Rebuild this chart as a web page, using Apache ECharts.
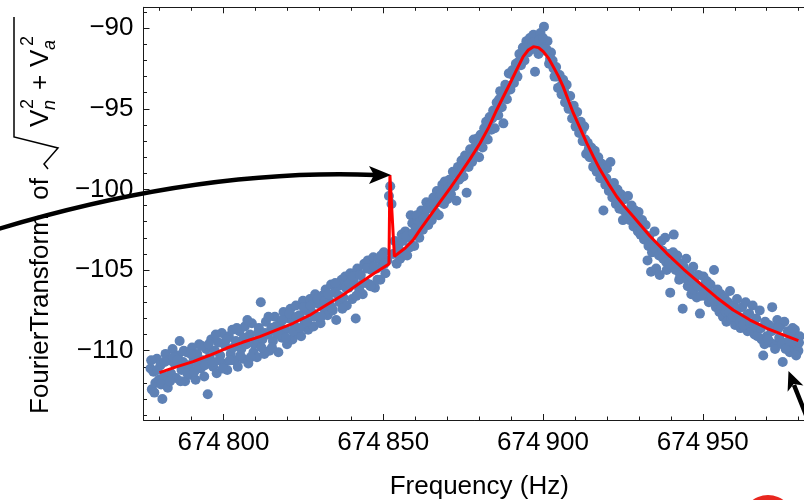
<!DOCTYPE html>
<html>

<head lang="en">
    <meta charset="utf-8">
    <title>resonance</title>
    <script src="https://cdn.jsdelivr.net/npm/echarts@6.0.0/dist/echarts.min.js"></script>
</head>

<body style="margin:0">
    <div id="demo1" style="width: 804px;height:500px;"></div>
    <script type="text/javascript">
        var myChart = echarts.init(document.getElementById('demo1'));

        /*---------------------axes----------------------------*/
        var freqRange = [674775, 674985.1];
        var ampRange = [-114.3, -88.7];
        var freqMajor = [674800, 674850, 674900, 674950];
        var freqMinor = [674780, 674790, 674810, 674820, 674830, 674840, 674860, 674870, 674880, 674890,
            674910, 674920, 674930, 674940, 674960, 674970, 674980];
        var ampMajor = [-110, -105, -100, -95, -90];
        var ampMinor = [-114, -113, -112, -111, -109, -108, -107, -106, -104, -103, -102, -101,
            -99, -98, -97, -96, -94, -93, -92, -91, -89];

        /*---------------------data----------------------------*/
        // measured points [Hz, value]
        var measured = [
            [674777.2,-111.1],[674777.6,-112.4],[674778.1,-111.3],[674778.7,-112.0],[674779.2,-110.5],[674779.8,-111.8],[674780.3,-110.9],[674780.9,-113.0],[674781.4,-111.6],[674781.9,-110.2],
            [674782.5,-111.9],[674783.0,-110.6],[674783.6,-111.4],[674784.1,-109.9],[674784.7,-110.8],[674785.2,-111.7],[674785.8,-110.3],[674786.3,-109.4],[674786.9,-111.2],[674787.4,-110.7],
            [674788.0,-111.9],[674788.5,-110.1],[674789.1,-110.9],[674789.6,-111.5],[674790.2,-109.8],[674790.7,-110.5],[674791.3,-111.8],[674791.8,-110.2],[674792.4,-109.6],[674792.9,-111.1],
            [674793.5,-110.6],[674794.0,-111.6],[674794.6,-109.9],[674795.1,-112.7],[674795.7,-110.4],[674796.2,-109.3],[674796.8,-111.0],[674797.3,-110.0],[674797.9,-111.4],[674798.4,-109.5],
            [674799.0,-110.3],[674799.5,-108.9],[674800.1,-110.8],[674800.6,-109.7],[674801.2,-111.2],[674801.7,-109.1],[674802.3,-110.2],[674802.8,-108.7],[674803.4,-110.6],[674803.9,-109.4],
            [674804.5,-111.0],[674805.0,-108.8],[674805.6,-109.9],[674806.1,-110.5],[674806.7,-108.5],[674807.2,-109.6],[674807.8,-110.8],[674808.3,-109.0],[674808.9,-108.3],[674809.4,-110.1],
            [674810.0,-109.5],[674810.5,-110.4],[674811.1,-108.6],[674811.7,-107.0],[674812.2,-109.3],[674812.8,-110.2],[674813.3,-108.2],[674813.9,-109.0],[674814.4,-110.0],[674815.0,-108.6],
            [674815.5,-109.4],[674816.1,-107.9],[674816.6,-108.9],[674817.2,-110.1],[674817.7,-108.3],[674818.3,-109.2],[674818.8,-107.6],[674819.4,-108.7],[674819.9,-109.6],[674820.5,-108.0],
            [674821.0,-107.4],[674821.6,-109.3],[674822.1,-108.4],[674822.7,-107.2],[674823.2,-108.9],[674823.8,-107.8],[674824.3,-109.1],[674824.9,-106.9],[674825.4,-108.2],[674826.0,-107.5],
            [674826.5,-108.7],[674827.1,-106.8],[674827.6,-107.6],[674828.2,-108.5],[674828.7,-106.5],[674829.3,-107.9],[674829.8,-107.1],[674830.4,-108.3],[674830.9,-106.6],[674831.5,-107.4],
            [674832.0,-106.2],[674832.6,-107.8],[674833.1,-106.9],[674833.7,-105.9],[674834.2,-107.5],[674834.8,-106.4],[674835.3,-108.1],[674835.9,-106.0],[674836.4,-107.0],[674837.0,-105.6],
            [674837.5,-106.7],[674838.1,-105.4],[674838.6,-107.2],[674839.2,-106.1],[674839.7,-105.2],[674840.3,-106.8],[674840.8,-105.7],[674841.4,-108.0],[674841.9,-104.9],[674842.5,-106.2],
            [674843.0,-105.3],[674843.6,-106.5],[674844.1,-104.6],[674844.7,-105.8],[674845.2,-104.4],[674845.8,-105.9],[674846.3,-105.0],[674846.9,-104.2],[674847.4,-106.1],[674848.0,-104.9],
            [674848.5,-104.3],[674849.1,-105.6],[674849.6,-104.7],[674850.2,-103.9],[674850.7,-105.2],[674851.3,-104.4],[674851.8,-100.4],[674852.2,-99.8],[674852.6,-100.9],[674853.1,-104.0],
            [674853.6,-103.2],[674854.2,-104.6],[674854.7,-103.5],[674855.3,-104.3],[674855.8,-102.8],[674856.4,-103.9],[674856.9,-102.6],[674857.5,-104.1],[674858.0,-103.0],[674858.6,-101.6],
            [674859.1,-102.1],[674859.7,-103.5],[674860.2,-102.4],[674860.8,-101.9],[674861.3,-103.0],[674861.9,-101.3],[674862.4,-102.5],[674863.0,-101.6],[674863.5,-100.8],[674864.1,-102.2],
            [674864.6,-101.0],[674865.2,-101.9],[674865.7,-100.5],[674866.3,-101.4],[674866.8,-100.1],[674867.4,-101.6],[674867.9,-100.4],[674868.5,-99.7],[674869.0,-100.9],[674869.6,-99.9],
            [674870.1,-100.6],[674870.7,-99.4],[674871.2,-100.3],[674871.8,-98.9],[674872.3,-99.8],[674872.9,-100.7],[674873.4,-98.6],[674874.0,-99.3],[674874.5,-98.2],[674875.1,-99.2],
            [674875.6,-97.9],[674876.1,-100.2],[674876.7,-98.6],[674877.2,-97.5],[674877.8,-98.3],[674878.3,-96.9],[674878.9,-97.9],[674879.4,-97.0],[674880.0,-98.0],[674880.5,-96.6],
            [674881.1,-97.4],[674881.6,-96.2],[674882.2,-95.8],[674882.7,-96.9],[674883.3,-95.5],[674883.8,-96.3],[674884.4,-95.1],[674884.9,-96.2],[674885.5,-94.6],[674886.0,-95.4],
            [674886.6,-93.9],[674887.1,-94.9],[674887.6,-95.9],[674888.2,-93.5],[674888.7,-94.4],[674889.3,-92.8],[674889.8,-93.8],[674890.4,-92.6],[674890.9,-93.4],[674891.5,-92.2],
            [674892.0,-93.0],[674892.6,-91.6],[674893.1,-92.3],[674893.7,-91.2],[674894.2,-92.0],[674894.8,-90.8],[674895.3,-91.5],[674895.9,-90.6],[674896.4,-91.3],[674897.0,-90.4],
            [674897.5,-92.7],[674898.1,-90.9],[674898.6,-91.6],[674899.2,-90.3],[674899.7,-91.0],[674900.3,-89.9],[674900.8,-91.4],[674901.4,-90.8],[674901.9,-92.2],[674902.5,-91.5],
            [674903.0,-92.0],[674903.6,-93.0],[674904.1,-92.4],[674904.7,-93.7],[674905.2,-92.9],[674905.8,-94.1],[674906.3,-93.2],[674906.9,-94.6],[674907.4,-93.5],[674908.0,-95.0],
            [674908.5,-94.2],[674909.1,-95.6],[674909.6,-94.8],[674910.2,-96.1],[674910.7,-95.2],[674911.3,-96.5],[674911.8,-95.8],[674912.4,-97.0],[674912.9,-96.1],[674913.5,-97.8],
            [674914.0,-97.1],[674914.6,-98.0],[674915.1,-97.4],[674915.7,-98.6],[674916.2,-97.6],[674916.8,-98.9],[674917.3,-98.0],[674917.9,-99.3],[674918.4,-98.4],[674918.9,-101.3],
            [674919.5,-99.7],[674920.0,-98.7],[674920.6,-100.1],[674921.1,-98.3],[674921.7,-100.5],[674922.2,-99.6],[674922.8,-100.9],[674923.3,-100.0],[674923.9,-101.2],[674924.4,-100.3],
            [674925.0,-101.9],[674925.5,-100.6],[674926.1,-101.5],[674926.6,-100.4],[674927.2,-101.9],[674927.7,-101.0],[674928.3,-102.3],[674928.8,-101.3],[674929.4,-102.0],[674929.9,-101.4],
            [674930.5,-102.8],[674931.0,-101.9],[674931.6,-103.1],[674932.1,-102.2],[674932.7,-104.4],[674933.2,-102.9],[674933.8,-105.1],[674934.3,-103.4],[674934.9,-102.6],[674935.4,-104.9],
            [674936.0,-103.5],[674936.5,-105.3],[674937.1,-103.2],[674937.6,-104.3],[674938.2,-103.0],[674938.7,-105.0],[674939.3,-104.0],[674939.8,-106.4],[674940.4,-104.7],[674940.9,-102.8],
            [674941.5,-105.0],[674942.0,-104.1],[674942.6,-105.6],[674943.1,-104.6],[674943.7,-107.4],[674944.2,-105.2],[674944.8,-104.3],[674945.3,-106.0],[674945.9,-105.1],[674946.4,-106.5],
            [674947.0,-104.8],[674947.5,-105.8],[674948.1,-106.7],[674948.6,-105.3],[674949.1,-107.7],[674949.7,-106.1],[674950.2,-105.4],[674950.8,-106.6],[674951.3,-105.7],[674951.9,-107.0],
            [674952.4,-105.9],[674953.0,-106.9],[674953.5,-105.0],[674954.1,-107.3],[674954.6,-106.2],[674955.2,-107.6],[674955.7,-106.5],[674956.3,-107.9],[674956.8,-106.7],[674957.4,-108.2],
            [674957.9,-107.0],[674958.5,-106.3],[674959.0,-108.0],[674959.6,-107.2],[674960.1,-108.4],[674960.7,-106.8],[674961.2,-107.9],[674961.8,-108.6],[674962.3,-107.3],[674962.9,-108.1],
            [674963.4,-107.0],[674964.0,-108.8],[674964.5,-107.7],[674965.1,-108.5],[674965.6,-107.2],[674966.2,-109.0],[674966.7,-108.0],[674967.3,-108.7],[674967.8,-107.5],[674968.4,-109.3],
            [674968.9,-110.3],[674969.5,-108.2],[674970.0,-109.1],[674970.6,-108.4],[674971.1,-109.5],[674971.7,-107.3],[674972.2,-108.6],[674972.8,-109.6],[674973.3,-108.1],[674973.9,-109.2],
            [674974.4,-108.4],[674975.0,-110.7],[674975.5,-108.2],[674976.1,-109.5],[674976.6,-108.8],[674977.2,-110.1],[674977.7,-109.0],[674978.3,-109.8],[674978.8,-108.7],[674979.4,-109.6],
            [674979.9,-110.0],[674980.3,-109.1],
            [674777.4,-110.6],[674778.4,-112.6],[674779.4,-111.2],[674780.5,-112.1],[674781.6,-110.7],[674782.6,-112.3],[674783.3,-111.9],[674784.4,-110.4],[674785.5,-110.6],[674786.6,-111.9],
            [674787.6,-110.0],[674788.7,-111.4],[674789.8,-110.2],[674790.9,-111.3],[674792.0,-110.9],[674793.1,-109.7],[674794.2,-110.9],[674795.4,-109.6],[674796.5,-110.7],[674797.6,-109.0],
            [674798.7,-110.6],[674799.8,-111.1],[674800.9,-109.3],[674802.0,-110.6],[674803.1,-109.8],[674804.2,-108.6],[674805.3,-110.3],[674806.4,-109.2],[674807.5,-108.1],[674808.6,-110.4],
            [674809.7,-109.6],[674810.8,-108.9],[674811.9,-109.8],[674813.0,-108.9],[674814.1,-107.9],[674815.2,-109.8],[674816.3,-108.5],[674817.4,-109.0],[674818.5,-108.1],[674819.6,-109.2],
            [674820.7,-107.7],[674821.8,-108.8],[674822.9,-107.9],[674824.0,-108.6],[674825.1,-107.3],[674826.2,-108.2],[674827.3,-107.2],[674828.4,-107.9],[674829.5,-106.8],[674830.6,-107.9],
            [674831.7,-106.9],[674832.8,-106.5],[674833.9,-107.3],[674835.0,-105.8],[674836.1,-106.6],[674837.2,-107.4],[674838.3,-106.1],[674839.4,-105.8],[674840.5,-105.4],[674841.6,-106.6],
            [674842.7,-105.3],[674843.8,-105.8],[674844.9,-104.9],[674846.0,-106.0],[674847.1,-104.8],[674848.2,-105.6],[674849.3,-104.1],[674850.4,-104.6],
            [674854.9,-103.9],[674856.1,-103.2],[674857.2,-102.9],[674858.3,-103.6],[674859.4,-102.7],[674860.5,-101.6],[674861.6,-102.0],[674862.7,-101.8],[674863.8,-101.2],[674865.0,-100.9],
            [674866.0,-100.9],[674867.1,-100.8],[674868.2,-100.3],[674869.3,-99.5],[674870.4,-99.9],[674871.5,-99.6],[674872.6,-99.0],[674873.7,-99.4],[674874.8,-98.7],[674876.4,-98.0],
            [674877.5,-98.0],[674878.6,-97.4],[674879.7,-96.8],[674880.8,-97.0],[674881.9,-96.7],[674883.0,-96.0],[674884.1,-95.6],[674885.2,-95.4],[674886.3,-94.4],[674887.4,-94.3],
            [674888.5,-93.9],[674889.5,-93.6],[674890.6,-92.9],[674891.2,-92.7],[674892.3,-92.1],[674893.4,-91.7],[674894.5,-91.3],[674895.6,-91.0],[674896.7,-90.9],[674897.8,-91.3],
            [674898.9,-90.7],[674900.0,-90.6],[674901.1,-91.3],[674902.2,-91.9],[674903.3,-92.5],[674904.4,-93.0],[674905.5,-93.6],[674906.6,-93.9],[674907.7,-94.3],[674908.8,-95.0],
            [674909.9,-95.3],[674911.0,-95.9],[674912.1,-96.4],[674913.2,-96.9],[674914.3,-97.5],[674915.4,-98.0],[674916.5,-98.3],[674917.6,-98.6],[674918.7,-99.0],[674919.8,-99.3],
            [674920.9,-99.9],[674922.0,-100.1],[674923.1,-100.6],[674924.2,-100.8],
            [674925.3,-101.3],[674926.4,-101.8],[674927.5,-101.5],[674928.6,-101.8],[674929.7,-102.6],[674930.8,-102.4],[674931.9,-102.8],[674933.0,-103.5],[674934.1,-103.9],[674935.2,-103.7],
            [674936.3,-104.1],[674937.4,-103.8],[674938.5,-104.5],[674939.6,-104.6],[674940.7,-103.9],[674941.8,-104.6],[674942.9,-105.3],[674944.0,-104.8],[674945.1,-105.6],[674946.2,-105.4],
            [674947.3,-106.2],[674948.4,-106.0],[674949.5,-106.6],[674950.6,-105.9],[674951.7,-106.3],[674952.8,-106.6],[674953.9,-106.9],[674955.0,-106.9],[674956.1,-107.2],[674957.2,-107.6],
            [674958.3,-107.6],[674959.4,-107.9],[674960.5,-107.6],[674961.6,-108.2],[674962.7,-108.4],[674963.8,-107.8],[674964.9,-108.3],[674966.0,-108.4],[674967.1,-109.1],[674968.2,-108.6],
            [674969.3,-109.6],[674970.4,-109.3],[674971.5,-108.8],[674972.6,-109.9],[674973.7,-108.6],[674974.8,-109.6],[674975.9,-109.9],[674977.0,-109.4],[674978.1,-108.6],[674979.2,-110.3],
            [674980.1,-109.5]
        ];

        // fitted curve with the narrow feature near 674852 Hz
        var fitCurve = [
            [674780.0,-111.36],[674785.0,-111.02],[674790.5,-110.68],[674795.5,-110.3],[674800.9,-109.85],[674806.0,-109.48],
            [674811.4,-109.13],[674816.5,-108.72],[674821.8,-108.3],[674827.0,-107.8],[674832.2,-107.17],[674837.4,-106.55],
            [674842.6,-105.82],[674847.2,-105.2],[674851.8,-104.62],[674852.1,-99.1],[674853.5,-104.15],[674856.9,-103.63],
            [674859.4,-103.13],[674861.5,-102.51],[674864.6,-101.65],[674867.8,-100.77],[674871.0,-99.9],[674874.0,-99.04],
            [674877.2,-98.1],[674880.3,-97.13],[674883.0,-96.15],[674885.5,-95.07],[674887.7,-94.2],[674889.7,-93.41],
            [674891.8,-92.55],[674893.8,-91.76],[674895.4,-91.35],[674897.0,-91.14],[674898.6,-91.2],[674900.1,-91.45],
            [674901.7,-91.85],[674903.2,-92.38],[674904.8,-92.97],[674906.3,-93.62],[674907.9,-94.45],[674909.5,-95.27],
            [674911.6,-96.2],[674913.7,-97.13],[674915.8,-97.98],[674917.8,-98.75],[674920.5,-99.65],[674923.1,-100.45],
            [674925.7,-101.1],[674928.3,-101.69],[674933.5,-102.9],[674938.7,-103.96],[674944.0,-104.95],[674949.1,-105.82],
            [674954.3,-106.7],[674959.5,-107.48],[674964.8,-108.1],[674970.0,-108.61],[674975.0,-109.0],[674979.9,-109.38]
        ];

        /*---------------------styles----------------------------*/
        var font = '"Liberation Sans", Arial, sans-serif';
        var ink = '#1a1a1a';

        function freqLabel(v) {
            var s = String(v);
            return s.slice(0, 3) + '\u2009' + s.slice(3);
        }

        function ampLabel(v) {
            return '\u2212' + Math.abs(v);
        }

        // one axis per tick set, all drawn on the same frame edge
        function frameAxis(pos, range, ticks, len, showLine, labels, fmt) {
            return {
                type: 'value',
                position: pos,
                min: range[0],
                max: range[1],
                axisLine: { show: showLine, onZero: false, lineStyle: { color: ink, width: 1 } },
                axisTick: { show: true, inside: true, length: len, customValues: ticks, lineStyle: { color: ink, width: 1 } },
                axisLabel: labels ? {
                    customValues: labels,
                    formatter: fmt,
                    color: '#000',
                    fontSize: 26,
                    fontFamily: font,
                    margin: 10
                } : { show: false },
                splitLine: { show: false },
                minorTick: { show: false }
            };
        }

        var xBottom = frameAxis('bottom', freqRange, freqMajor, 6, true, freqMajor, freqLabel);
        xBottom.name = 'Frequency (Hz)';
        xBottom.nameLocation = 'middle';
        xBottom.nameGap = 54;
        xBottom.nameTextStyle = { color: '#000', fontSize: 26, fontFamily: font };

        var titleFont = '26px ' + font;
        var smallFont = '18px ' + font;
        var smallItalic = 'italic 18px ' + font;

        var option = {
            backgroundColor: '#fff',
            animation: false,
            grid: {
                left: 143.5,
                top: 7.3,
                right: -11,
                bottom: 80,
                outerBoundsMode: 'none'
            },
            xAxis: [
                xBottom,
                frameAxis('bottom', freqRange, freqMinor, 3.5, false),
                frameAxis('top', freqRange, freqMajor, 6, true),
                frameAxis('top', freqRange, freqMinor, 3.5, false)
            ],
            yAxis: [
                frameAxis('left', ampRange, ampMajor, 6, true, ampMajor, ampLabel),
                frameAxis('left', ampRange, ampMinor, 3.5, false)
            ],
            graphic: [
                // y title, rotated, with the square root drawn by hand
                {
                    type: 'group',
                    x: 0,
                    y: 414,
                    rotation: Math.PI / 2,
                    children: [
                        { type: 'text', x: 0, y: 41, style: { text: 'FourierTransform  of', font: titleFont, fill: '#000', textVerticalAlign: 'middle' } },
                        { type: 'polyline', shape: { points: [[245, 48], [250, 44], [266, 58], [277, 14], [397, 14]] }, style: { stroke: '#000', lineWidth: 1.5, fill: null } },
                        { type: 'text', x: 287, y: 41, style: { text: 'V', font: titleFont, fill: '#000', textVerticalAlign: 'middle' } },
                        { type: 'text', x: 304, y: 50, style: { text: 'n', font: smallItalic, fill: '#000', textVerticalAlign: 'middle' } },
                        { type: 'text', x: 305, y: 28, style: { text: '2', font: smallFont, fill: '#000', textVerticalAlign: 'middle' } },
                        { type: 'text', x: 324, y: 41, style: { text: '+', font: titleFont, fill: '#000', textVerticalAlign: 'middle' } },
                        { type: 'text', x: 347, y: 41, style: { text: 'V', font: titleFont, fill: '#000', textVerticalAlign: 'middle' } },
                        { type: 'text', x: 364, y: 50, style: { text: 'a', font: smallItalic, fill: '#000', textVerticalAlign: 'middle' } },
                        { type: 'text', x: 368, y: 28, style: { text: '2', font: smallFont, fill: '#000', textVerticalAlign: 'middle' } }
                    ]
                },
                // annotation arrows
                { type: 'bezierCurve', shape: { x1: -5, y1: 230, cpx1: 200, cpy1: 168, x2: 375, y2: 175 }, style: { stroke: '#000', lineWidth: 4.5, fill: null }, z: 100 },
                { type: 'polygon', shape: { points: [[369, 166], [391, 175], [369, 184], [374, 175]] }, style: { fill: '#000' }, z: 100 },
                { type: 'line', shape: { x1: 794, y1: 385, x2: 812, y2: 430 }, style: { stroke: '#000', lineWidth: 4.5 }, z: 100 },
                { type: 'polygon', shape: { points: [[788.5, 371], [803.4, 385.5], [793.7, 384], [787.6, 391.8]] }, style: { fill: '#000' }, z: 100 },
                { type: 'circle', shape: { cx: 768, cy: 521, r: 26 }, style: { fill: '#e8271f' }, z: 100 }
            ],
            series: [
                {
                    name: 'measured',
                    type: 'scatter',
                    xAxisIndex: 0,
                    yAxisIndex: 0,
                    symbol: 'circle',
                    symbolSize: 10,
                    itemStyle: { color: '#5e81b5', opacity: 1 },
                    data: measured,
                    z: 2
                },
                {
                    name: 'fit',
                    type: 'line',
                    xAxisIndex: 0,
                    yAxisIndex: 0,
                    showSymbol: false,
                    symbol: 'none',
                    lineStyle: { color: '#ff0000', width: 3 },
                    data: fitCurve,
                    z: 3
                }
            ]
        };

        myChart.setOption(option);
    </script>
</body>

</html>
